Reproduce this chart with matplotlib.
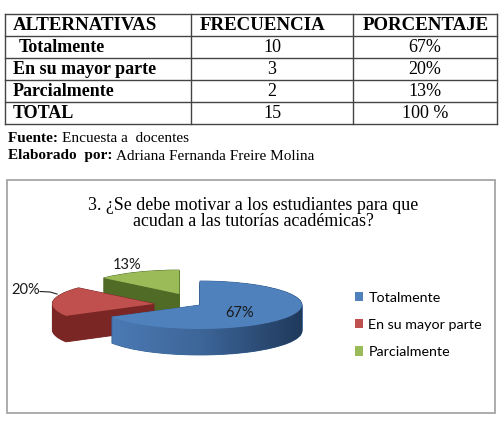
import matplotlib
matplotlib.use('Agg')
import matplotlib.pyplot as plt
import numpy as np
from matplotlib.patches import Rectangle, Patch
from matplotlib.path import Path

# data
alternativas = ['Totalmente', 'En su mayor parte', 'Parcialmente']
frecuencia = [10, 3, 2]
headers = ['ALTERNATIVAS', 'FRECUENCIA', 'PORCENTAJE']
titulo = ['3. ¿Se debe motivar a los estudiantes para que',
          'acudan a las tutorías académicas?']
fuente = 'Encuesta a  docentes'
elaborado = 'Adriana Fernanda Freire Molina'

total = sum(frecuencia)
porcentaje = [round(100 * f / total) for f in frecuencia]

top_colors = ['#4f81bd', '#c0504d', '#9bbb59']
side_colors = ['#3a6396', '#7a2624', '#4f6b26']
explode = [0, 0.45, 0.5]

W, H = 502, 422
fig = plt.figure(figsize=(W / 100, H / 100), dpi=100)

# background axes in pixel coords
bg = fig.add_axes([0, 0, 1, 1])
bg.set_xlim(0, W)
bg.set_ylim(H, 0)
bg.axis('off')

serif = 'Liberation Serif'
sans = 'Lato'

# table
col_x = [5, 191, 353, 497]
row_y = [14, 36, 58, 80, 102, 124]
lc = '#444444'
for y in row_y:
	bg.plot([col_x[0], col_x[-1]], [y, y], color=lc, lw=1)
for x in col_x:
	bg.plot([x, x], [row_y[0], row_y[-1]], color=lc, lw=1)

def rowc(i):
	return (row_y[i] + row_y[i + 1]) / 2 + 1

fs = 13
bg.text(13, rowc(0), headers[0], fontsize=13.6, fontweight='bold', family=serif, va='center')
bg.text(200, rowc(0), headers[1], fontsize=13.6, fontweight='bold', family=serif, va='center')
bg.text(363, rowc(0), headers[2], fontsize=13.6, fontweight='bold', family=serif, va='center')

for i, (a, f, p) in enumerate(zip(alternativas, frecuencia, porcentaje)):
	xa = 13 if i else 19
	bg.text(xa, rowc(i + 1), a, fontsize=fs, fontweight='bold', family=serif, va='center')
	bg.text((col_x[1] + col_x[2]) / 2, rowc(i + 1), str(f), fontsize=fs, family=serif, va='center', ha='center')
	bg.text((col_x[2] + col_x[3]) / 2, rowc(i + 1), f'{p}%', fontsize=fs, family=serif, va='center', ha='center')

bg.text(13, rowc(4), 'TOTAL', fontsize=fs, fontweight='bold', family=serif, va='center')
bg.text((col_x[1] + col_x[2]) / 2, rowc(4), str(total), fontsize=fs, family=serif, va='center', ha='center')
bg.text((col_x[2] + col_x[3]) / 2, rowc(4), f'{sum(porcentaje)} %', fontsize=fs, family=serif, va='center', ha='center')

# source lines
t = bg.text(8, 138, 'Fuente: ', fontsize=11, fontweight='bold', family=serif, va='center')
bg.annotate(fuente, xycoords=t, xy=(1, 0.5), va='center', fontsize=11, family=serif)
t = bg.text(8, 156, 'Elaborado  por: ', fontsize=11, fontweight='bold', family=serif, va='center')
bg.annotate(elaborado, xycoords=t, xy=(1, 0.5), va='center', fontsize=11, family=serif)

# chart border
bg.add_patch(Rectangle((7, 180), 488, 233, fill=False, edgecolor='#a6a6a6', lw=1.3))

# title
bg.text(253, 205, titulo[0], fontsize=12.9, family=serif, ha='center', va='center')
bg.text(253, 222, titulo[1], fontsize=12.9, family=serif, ha='center', va='center')

# pie: ellipse centre (200, 305), a=102, b=24 px
cx, cy, a, b = 200, 305, 102, 24
x0, x1, y0, y1 = 0, 400, 230, 380
ax = fig.add_axes([x0 / W, 1 - y1 / H, (x1 - x0) / W, (y1 - y0) / H])
depth = [3, 2, 1]  # blue front, red, green back
n = 40
thick = 26 / b
blue_paths = []
for i in range(n):
	off = thick * (1 - i / (n - 1))
	wedges, _ = ax.pie(frecuencia, explode=explode, colors=side_colors, center=(0, -off),
		startangle=90, counterclock=False, wedgeprops=dict(linewidth=0.6))
	for k, w in enumerate(wedges):
		w.set_edgecolor(side_colors[k])
		w.set_zorder(depth[k] * 1000 + i)
	blue_paths.append(wedges[0].get_path())

wedges, _ = ax.pie(frecuencia, explode=explode, colors=top_colors,
	startangle=90, counterclock=False, wedgeprops=dict(linewidth=0))
for k, w in enumerate(wedges):
	w.set_zorder(depth[k] * 1000 + n + 50)

# gradient on the blue side wall
comp = Path.make_compound_path(*blue_paths)
grad = np.linspace(0, 1, 256).reshape(1, -1)
cmap = matplotlib.colors.LinearSegmentedColormap.from_list('bl', ['#4f7fbb', '#3d6699', '#1d3555'])
im = ax.imshow(grad, extent=[-1.1, 1.1, -2.5, 1.2], aspect='auto', cmap=cmap, zorder=3000 + n)
im.set_clip_path(comp, ax.transData)

ax.set_aspect('auto')
ax.set_xlim((x0 - cx) / a, (x1 - cx) / a)
ax.set_ylim((cy - y1) / b, (cy - y0) / b)
ax.axis('off')

# labels
fg = fig.add_axes([0, 0, 1, 1])
fg.set_xlim(0, W)
fg.set_ylim(H, 0)
fg.axis('off')
lfs = 10.5
fg.text(240, 313, f'{porcentaje[0]}%', fontsize=lfs, family=sans, ha='center', va='center', color='#1a1a1a')
fg.text(26, 290, f'{porcentaje[1]}%', fontsize=lfs, family=sans, ha='center', va='center', color='#1a1a1a')
fg.text(127, 265, f'{porcentaje[2]}%', fontsize=lfs, family=sans, ha='center', va='center', color='#1a1a1a')
fg.plot([40, 50, 57], [291.5, 292, 294], color='#222222', lw=0.8)

handles = [Patch(facecolor=c, edgecolor='none') for c in top_colors]
fg.legend(handles, alternativas, loc='center left', bbox_to_anchor=(342 / W, 1 - 325 / H),
	bbox_transform=fig.transFigure, frameon=False, handlelength=0.6, handleheight=0.6,
	handletextpad=0.35, labelspacing=1.05, prop={'family': sans, 'size': 10.3})

fig.savefig('out.png', dpi=100)
